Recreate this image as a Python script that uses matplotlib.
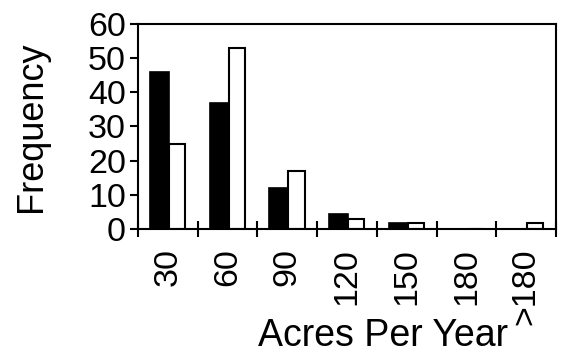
import matplotlib
matplotlib.use("Agg")
import matplotlib.pyplot as plt
import numpy as np

plt.rcParams['font.family'] = ['Liberation Sans', 'DejaVu Sans']

# binned acres per year, two groups (black / white)
categories = ['30', '60', '90', '120', '150', '180', '>180']
black_vals = [46, 37, 12, 4.3, 1.8, 0, 0]
white_vals = [25, 53, 17, 2.8, 1.8, 0, 1.8]

x = np.arange(len(categories))

fig = plt.figure(figsize=(5.62, 3.56), dpi=100)
ax = fig.add_axes([0.2456, 0.3567, 0.7437, 0.576])

ax.bar(x - 0.3, black_vals, width=0.32, align='edge', color='black',
       edgecolor='black', linewidth=1.2)
ax.bar(x + 0.02, white_vals, width=0.27, align='edge', color='white',
       edgecolor='black', linewidth=1.5)

ax.set_xlim(-0.5, len(categories) - 0.5)
ax.set_ylim(0, 60)
ax.set_yticks([0, 10, 20, 30, 40, 50, 60])

# major ticks at bin edges, labels at bin centres
ax.set_xticks(np.arange(len(categories) + 1) - 0.5)
ax.set_xticklabels([])
ax.set_xticks(x, minor=True)
ax.set_xticklabels(categories, minor=True, rotation=90, va='top', ha='center')

for s in ax.spines.values():
    s.set_linewidth(1.5)

ax.tick_params(axis='x', which='major', direction='inout', length=12, width=1.5)
ax.tick_params(axis='x', which='minor', length=0, pad=14, labelsize=24.5)
ax.tick_params(axis='y', direction='out', length=5.8, width=1.5, pad=3, labelsize=24.5)

ax.set_ylabel('Frequency', fontsize=26)
ax.yaxis.set_label_coords(-0.212, 0.5)
ax.set_xlabel('Acres Per Year', fontsize=27)
ax.xaxis.set_label_coords(0.586, -0.435)

fig.savefig('out.png', dpi=100)
